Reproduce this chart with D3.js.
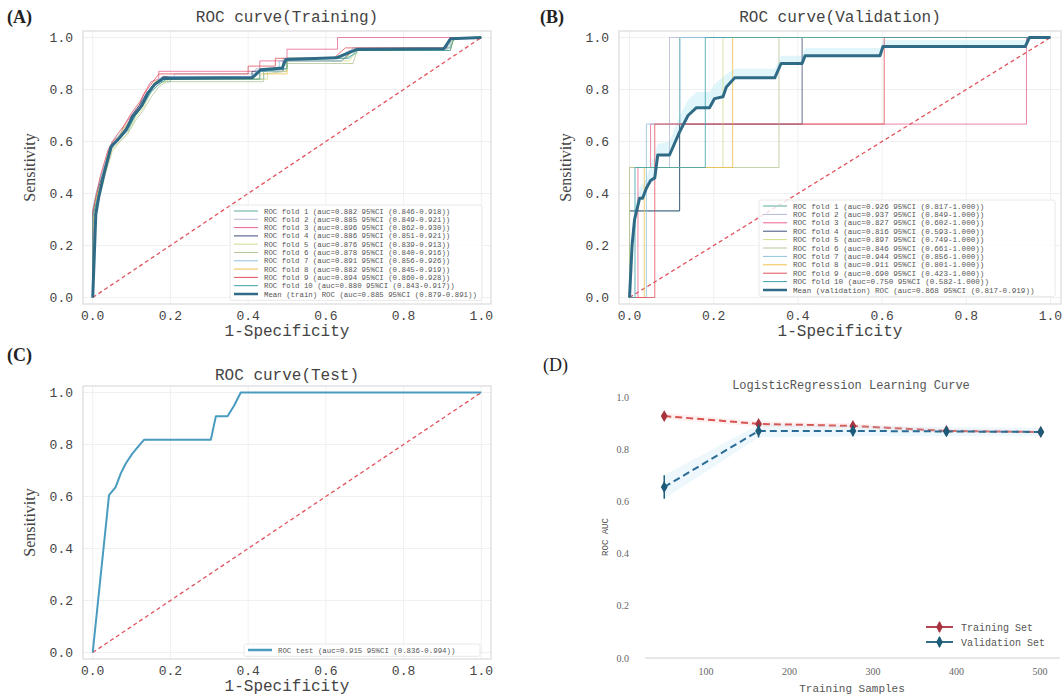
<!DOCTYPE html>
<html>
<head>
<meta charset="utf-8">
<script src="https://cdn.jsdelivr.net/npm/d3@7/dist/d3.min.js"></script>
<style>
  body { margin: 0; background: #fff; }
  svg { display: block; }
</style>
</head>
<body>
<svg id="chart" width="1062" height="697"></svg>
<script>
// ---- data -------------------------------------------------------------
const rocTicks = [0, 0.2, 0.4, 0.6, 0.8, 1.0];

const foldColors = ['#5aae9c', '#b3bad6', '#e8668c', '#3f4d7a', '#d3dc8c',
                    '#b5c79a', '#8fc1df', '#efc24a', '#e0505a', '#3aa3ad'];
const meanColor = '#2f6b86';

// training folds (step points)
const trainFolds = [
  [[0,0],[0,0.28],[0.01,0.36],[0.02,0.45],[0.04,0.55],[0.06,0.6],[0.09,0.64],[0.11,0.7],[0.13,0.74],[0.15,0.8],[0.17,0.83],[0.2,0.83],[0.2,0.84],[0.44,0.84],[0.44,0.87],[0.5,0.88],[0.5,0.92],[0.65,0.92],[0.68,0.94],[0.68,0.96],[0.92,0.96],[0.93,1],[1,1]],
  [[0,0],[0,0.3],[0.01,0.38],[0.03,0.5],[0.05,0.58],[0.07,0.61],[0.09,0.67],[0.11,0.71],[0.13,0.76],[0.15,0.8],[0.17,0.84],[0.21,0.84],[0.21,0.86],[0.42,0.86],[0.42,0.88],[0.49,0.88],[0.49,0.92],[0.63,0.92],[0.66,0.95],[0.91,0.95],[0.92,1],[1,1]],
  [[0,0],[0,0.22],[0.01,0.35],[0.02,0.42],[0.03,0.5],[0.05,0.6],[0.07,0.62],[0.08,0.66],[0.1,0.7],[0.12,0.74],[0.13,0.78],[0.15,0.83],[0.17,0.84],[0.17,0.87],[0.43,0.87],[0.43,0.91],[0.5,0.91],[0.5,0.955],[0.63,0.955],[0.63,1],[1,1]],
  [[0,0],[0,0.32],[0.01,0.4],[0.03,0.49],[0.05,0.59],[0.07,0.62],[0.09,0.66],[0.1,0.7],[0.12,0.74],[0.14,0.79],[0.16,0.82],[0.18,0.85],[0.41,0.85],[0.41,0.87],[0.49,0.87],[0.49,0.91],[0.64,0.91],[0.67,0.95],[0.9,0.95],[0.92,1],[1,1]],
  [[0,0],[0,0.26],[0.01,0.34],[0.03,0.46],[0.05,0.56],[0.07,0.6],[0.09,0.63],[0.11,0.69],[0.13,0.73],[0.15,0.79],[0.17,0.82],[0.2,0.84],[0.45,0.84],[0.45,0.87],[0.5,0.87],[0.5,0.91],[0.66,0.91],[0.68,0.95],[0.92,0.95],[0.93,1],[1,1]],
  [[0,0],[0,0.3],[0.01,0.37],[0.03,0.47],[0.05,0.57],[0.07,0.6],[0.09,0.63],[0.11,0.68],[0.13,0.72],[0.15,0.77],[0.17,0.81],[0.19,0.83],[0.44,0.83],[0.44,0.86],[0.5,0.87],[0.5,0.9],[0.67,0.9],[0.68,0.95],[0.91,0.95],[0.93,1],[1,1]],
  [[0,0],[0,0.34],[0.01,0.41],[0.03,0.51],[0.05,0.6],[0.07,0.63],[0.09,0.67],[0.11,0.71],[0.13,0.75],[0.15,0.81],[0.17,0.84],[0.2,0.85],[0.42,0.85],[0.42,0.87],[0.48,0.87],[0.48,0.91],[0.64,0.91],[0.67,0.96],[0.92,0.96],[0.92,1],[1,1]],
  [[0,0],[0,0.29],[0.01,0.39],[0.03,0.48],[0.04,0.56],[0.06,0.6],[0.08,0.65],[0.1,0.69],[0.12,0.73],[0.14,0.78],[0.16,0.83],[0.18,0.84],[0.43,0.84],[0.43,0.86],[0.5,0.86],[0.5,0.92],[0.65,0.92],[0.67,0.95],[0.92,0.95],[0.93,1],[1,1]],
  [[0,0],[0,0.33],[0.01,0.4],[0.02,0.47],[0.04,0.57],[0.06,0.62],[0.08,0.66],[0.1,0.71],[0.12,0.75],[0.14,0.8],[0.16,0.84],[0.17,0.86],[0.4,0.86],[0.4,0.89],[0.47,0.89],[0.47,0.92],[0.62,0.92],[0.65,0.96],[0.91,0.96],[0.92,1],[1,1]],
  [[0,0],[0,0.31],[0.01,0.37],[0.03,0.48],[0.05,0.58],[0.07,0.61],[0.09,0.65],[0.11,0.7],[0.13,0.74],[0.15,0.79],[0.17,0.82],[0.19,0.84],[0.43,0.84],[0.43,0.87],[0.5,0.88],[0.5,0.92],[0.66,0.92],[0.68,0.95],[0.92,0.95],[0.93,1],[1,1]]
];
const trainMean = [[0,0],[0.008,0.32],[0.016,0.39],[0.03,0.48],[0.047,0.58],[0.064,0.606],[0.086,0.645],[0.103,0.696],[0.125,0.735],[0.142,0.786],[0.159,0.819],[0.181,0.842],[0.41,0.845],[0.425,0.865],[0.432,0.876],[0.488,0.883],[0.497,0.915],[0.627,0.922],[0.68,0.954],[0.904,0.957],[0.921,0.995],[1,1]];
const trainLegend = [
  'ROC fold  1 (auc=0.882 95%CI (0.846-0.918))',
  'ROC fold  2 (auc=0.885 95%CI (0.849-0.921))',
  'ROC fold  3 (auc=0.896 95%CI (0.862-0.930))',
  'ROC fold  4 (auc=0.886 95%CI (0.851-0.921))',
  'ROC fold  5 (auc=0.876 95%CI (0.839-0.913))',
  'ROC fold  6 (auc=0.878 95%CI (0.840-0.916))',
  'ROC fold  7 (auc=0.891 95%CI (0.856-0.926))',
  'ROC fold  8 (auc=0.882 95%CI (0.845-0.919))',
  'ROC fold  9 (auc=0.894 95%CI (0.860-0.928))',
  'ROC fold 10 (auc=0.880 95%CI (0.843-0.917))',
  'Mean (train) ROC (auc=0.885 95%CI (0.879-0.891))'
];

// validation folds (panel B)
const valFolds = [
  [[0,0],[0,0.333],[0.119,0.333],[0.119,1],[1,1]],
  [[0,0],[0,0.5],[0.095,0.5],[0.095,1],[1,1]],
  [[0,0],[0.02,0],[0.02,0.5],[0.05,0.5],[0.05,0.667],[0.943,0.667],[0.943,1],[1,1]],
  [[0,0],[0,0.333],[0.119,0.333],[0.119,0.667],[0.41,0.667],[0.41,1],[1,1]],
  [[0,0],[0,0.5],[0.222,0.5],[0.222,1],[1,1]],
  [[0,0],[0,0.5],[0.355,0.5],[0.355,1],[1,1]],
  [[0,0],[0.04,0],[0.04,0.667],[0.12,0.667],[0.12,1],[1,1]],
  [[0,0],[0.035,0],[0.035,0.5],[0.245,0.5],[0.245,1],[1,1]],
  [[0,0],[0.06,0],[0.06,0.667],[0.605,0.667],[0.605,1],[1,1]],
  [[0,0],[0.013,0],[0.013,0.5],[0.18,0.5],[0.18,1],[1,1]]
];
const valMean = [[0,0],[0.006,0.2],[0.012,0.3],[0.024,0.382],[0.031,0.382],[0.04,0.42],[0.05,0.45],[0.06,0.46],[0.067,0.548],[0.095,0.548],[0.119,0.637],[0.139,0.7],[0.159,0.73],[0.19,0.73],[0.202,0.765],[0.222,0.772],[0.23,0.81],[0.25,0.845],[0.345,0.845],[0.36,0.9],[0.41,0.9],[0.417,0.93],[0.595,0.93],[0.602,0.965],[0.94,0.965],[0.95,1],[1,1]];
const valUpper = [[0,0],[0.006,0.24],[0.012,0.34],[0.024,0.42],[0.04,0.46],[0.067,0.59],[0.095,0.6],[0.119,0.7],[0.139,0.76],[0.159,0.79],[0.19,0.79],[0.202,0.82],[0.23,0.86],[0.25,0.88],[0.345,0.88],[0.36,0.93],[0.41,0.93],[0.417,0.96],[0.595,0.96],[0.602,0.99],[0.94,0.99],[0.95,1],[1,1]];
const valLegend = [
  'ROC fold  1 (auc=0.926 95%CI (0.817-1.000))',
  'ROC fold  2 (auc=0.937 95%CI (0.849-1.000))',
  'ROC fold  3 (auc=0.827 95%CI (0.602-1.000))',
  'ROC fold  4 (auc=0.816 95%CI (0.593-1.000))',
  'ROC fold  5 (auc=0.897 95%CI (0.749-1.000))',
  'ROC fold  6 (auc=0.846 95%CI (0.661-1.000))',
  'ROC fold  7 (auc=0.944 95%CI (0.856-1.000))',
  'ROC fold  8 (auc=0.911 95%CI (0.801-1.000))',
  'ROC fold  9 (auc=0.690 95%CI (0.423-1.000))',
  'ROC fold 10 (auc=0.750 95%CI (0.582-1.000))',
  'Mean (validation) ROC (auc=0.868 95%CI (0.817-0.919))'
];

// test set (panel C)
const testRoc = [[0,0],[0.042,0.605],[0.059,0.636],[0.072,0.688],[0.085,0.727],[0.102,0.765],[0.119,0.796],[0.132,0.818],[0.304,0.818],[0.317,0.909],[0.347,0.909],[0.364,0.95],[0.381,1],[1,1]];
const testLegend = ['ROC test (auc=0.915 95%CI (0.836-0.994))'];

// learning curve (panel D)
const lcSizes = [50, 163, 276, 388, 501];
const lcTrain = [0.927, 0.897, 0.889, 0.870, 0.866];
const lcTrainStd = [0.012, 0.010, 0.009, 0.007, 0.006];
const lcVal = [0.655, 0.870, 0.870, 0.868, 0.866];
const lcValStd = [0.045, 0.025, 0.020, 0.018, 0.016];
const lcTicksX = [100, 200, 300, 400, 500];
const lcTicksY = [0, 0.2, 0.4, 0.6, 0.8, 1.0];

// ---- drawing ----------------------------------------------------------
const svg = d3.select('#chart');
const mono = "'Liberation Mono', 'DejaVu Sans Mono', monospace";
const serif = "'Liberation Serif', 'DejaVu Serif', serif";
const fmt1 = d3.format('.1f');

function rocPanel(cfg) {
  const g = svg.append('g');
  const x = d3.scaleLinear().domain([-0.025, 1.025]).range([cfg.left, cfg.right]);
  const y = d3.scaleLinear().domain([-0.025, 1.025]).range([cfg.bottom, cfg.top]);
  const line = d3.line().x(d => x(d[0])).y(d => y(d[1]));

  // grid
  g.selectAll('.gx').data(rocTicks).enter().append('line')
    .attr('x1', d => x(d)).attr('x2', d => x(d))
    .attr('y1', cfg.top).attr('y2', cfg.bottom)
    .attr('stroke', '#f0f0f0');
  g.selectAll('.gy').data(rocTicks).enter().append('line')
    .attr('x1', cfg.left).attr('x2', cfg.right)
    .attr('y1', d => y(d)).attr('y2', d => y(d))
    .attr('stroke', '#f0f0f0');

  // band around mean curve
  if (cfg.upper) {
    const poly = cfg.upper.concat(cfg.mean.slice().reverse());
    g.append('path').attr('d', line(poly) + 'Z')
      .attr('fill', '#c9eef8').attr('opacity', 0.55);
  }

  // chance line
  g.append('line')
    .attr('x1', x(0)).attr('y1', y(0)).attr('x2', x(1)).attr('y2', y(1))
    .attr('stroke', '#e2525c').attr('stroke-width', 1.3)
    .attr('stroke-dasharray', '4,3');

  // fold curves
  (cfg.folds || []).forEach((f, i) => {
    g.append('path').attr('d', line(f))
      .attr('fill', 'none').attr('stroke', foldColors[i])
      .attr('stroke-width', 1).attr('opacity', 0.8);
  });

  // mean / single curve
  g.append('path').attr('d', line(cfg.mean))
    .attr('fill', 'none').attr('stroke', cfg.meanColor)
    .attr('stroke-width', cfg.meanWidth).attr('stroke-linejoin', 'round');

  // frame
  g.append('rect')
    .attr('x', cfg.left).attr('y', cfg.top)
    .attr('width', cfg.right - cfg.left).attr('height', cfg.bottom - cfg.top)
    .attr('fill', 'none').attr('stroke', '#d4d4d4');

  // tick labels
  g.selectAll('.tx').data(rocTicks).enter().append('text')
    .attr('x', d => x(d)).attr('y', cfg.bottom + 16)
    .attr('text-anchor', 'middle')
    .style('font-family', mono).style('font-size', '13px').attr('fill', '#444')
    .text(fmt1);
  g.selectAll('.ty').data(rocTicks).enter().append('text')
    .attr('x', cfg.left - 10).attr('y', d => y(d) + 4)
    .attr('text-anchor', 'end')
    .style('font-family', mono).style('font-size', '13px').attr('fill', '#444')
    .text(fmt1);

  // axis labels and title
  g.append('text')
    .attr('x', (cfg.left + cfg.right) / 2).attr('y', cfg.bottom + 32)
    .attr('text-anchor', 'middle')
    .style('font-family', mono).style('font-size', '16px').attr('fill', '#444')
    .text('1-Specificity');
  g.append('text')
    .attr('transform', `translate(${cfg.left - 48},${(cfg.top + cfg.bottom) / 2}) rotate(-90)`)
    .attr('text-anchor', 'middle')
    .style('font-family', serif).style('font-size', '16px').attr('fill', '#444')
    .text('Sensitivity');
  g.append('text')
    .attr('x', (cfg.left + cfg.right) / 2).attr('y', cfg.titleY)
    .attr('text-anchor', 'middle')
    .style('font-family', mono).style('font-size', '16px').attr('fill', '#444')
    .text(cfg.title);
  g.append('text')
    .attr('x', cfg.tagX).attr('y', cfg.tagY)
    .style('font-family', serif).style('font-size', '18px')
    .style('font-weight', 'bold').attr('fill', '#222')
    .text(cfg.tag);

  // legend
  const lg = cfg.legend;
  const n = lg.labels.length;
  g.append('rect')
    .attr('x', lg.x - 4).attr('y', lg.y - 6)
    .attr('width', lg.w).attr('height', n * lg.step + 4)
    .attr('fill', '#fff').attr('fill-opacity', 0.8)
    .attr('stroke', '#e8e8e8').attr('rx', 2);
  lg.labels.forEach((t, i) => {
    const yy = lg.y + i * lg.step;
    const isMean = i === n - 1 && cfg.folds;
    const col = cfg.folds ? (isMean ? cfg.meanColor : foldColors[i]) : cfg.meanColor;
    g.append('line')
      .attr('x1', lg.x).attr('x2', lg.x + 24).attr('y1', yy).attr('y2', yy)
      .attr('stroke', col).attr('stroke-width', isMean || !cfg.folds ? 2.5 : 1);
    g.append('text')
      .attr('x', lg.x + 30).attr('y', yy + 2.5)
      .style('font-family', mono).style('font-size', lg.size + 'px').attr('fill', '#555')
      .text(t);
  });
}

rocPanel({
  left: 83, right: 491, top: 31, bottom: 304,
  folds: trainFolds, mean: trainMean, meanColor: meanColor, meanWidth: 3,
  title: 'ROC curve(Training)', titleY: 22, tag: '(A)', tagX: 7, tagY: 23,
  legend: { x: 234, y: 211, step: 8.3, w: 252, size: 7.4, labels: trainLegend }
});

rocPanel({
  left: 619, right: 1061, top: 31, bottom: 304,
  folds: valFolds, mean: valMean, upper: valUpper, meanColor: meanColor, meanWidth: 3,
  title: 'ROC curve(Validation)', titleY: 22, tag: '(B)', tagX: 540, tagY: 23,
  legend: { x: 763, y: 206, step: 8.4, w: 296, size: 7.6, labels: valLegend }
});

rocPanel({
  left: 83, right: 491, top: 386, bottom: 659,
  mean: testRoc, meanColor: '#4a9bc0', meanWidth: 2,
  title: 'ROC curve(Test)', titleY: 380, tag: '(C)', tagX: 7, tagY: 361,
  legend: { x: 248, y: 650, step: 8.3, w: 236, size: 7.4, labels: testLegend }
});

// ---- panel D: learning curve -----------------------------------------
(function learningPanel() {
  const g = svg.append('g');
  const x = d3.scaleLinear().domain([27.45, 523.55]).range([645.4, 1059.6]);
  const y = d3.scaleLinear().domain([0, 1]).range([658, 397]);

  const series = [
    { name: 'Training Set', mean: lcTrain, std: lcTrainStd, line: '#d9534f', mark: '#a8323e', band: '#f4b6b6' },
    { name: 'Validation Set', mean: lcVal, std: lcValStd, line: '#2b6c96', mark: '#1d5c78', band: '#a9dcf0' }
  ];

  // bottom spine
  g.append('line')
    .attr('x1', x(27.45)).attr('x2', x(523.55)).attr('y1', y(0)).attr('y2', y(0))
    .attr('stroke', '#cfcfcf').attr('stroke-width', 1.2);

  series.forEach(s => {
    const pts = lcSizes.map((v, i) => ({ x: v, m: s.mean[i], sd: s.std[i] }));
    g.append('path')
      .attr('d', d3.area().x(d => x(d.x)).y0(d => y(d.m - d.sd)).y1(d => y(d.m + d.sd))(pts))
      .attr('fill', s.band).attr('opacity', 0.2);
    g.append('path')
      .attr('d', d3.line().x(d => x(d.x)).y(d => y(d.m))(pts))
      .attr('fill', 'none').attr('stroke', s.line).attr('stroke-width', 2)
      .attr('stroke-dasharray', '7,4');
  });
  series.forEach(s => {
    const pts = lcSizes.map((v, i) => ({ x: v, m: s.mean[i], sd: s.std[i] }));
    const mk = g.selectAll(null).data(pts).enter().append('g')
      .attr('transform', d => `translate(${x(d.x)},${y(d.m)})`);
    mk.append('line').attr('y1', d => y(d.m - d.sd) - y(d.m)).attr('y2', d => y(d.m + d.sd) - y(d.m))
      .attr('stroke', s.mark).attr('stroke-width', 1.5);
    mk.append('path').attr('d', d3.symbol(d3.symbolDiamond, 40)())
      .attr('fill', s.mark);
  });

  // ticks
  g.selectAll('.tx').data(lcTicksX).enter().append('text')
    .attr('x', d => x(d)).attr('y', 675).attr('text-anchor', 'middle')
    .style('font-family', serif).style('font-size', '10px').attr('fill', '#666')
    .text(d => d);
  g.selectAll('.ty').data(lcTicksY).enter().append('text')
    .attr('x', 629).attr('y', d => y(d) + 3.5).attr('text-anchor', 'end')
    .style('font-family', serif).style('font-size', '10px').attr('fill', '#666')
    .text(fmt1);

  g.append('text').attr('x', 852).attr('y', 692).attr('text-anchor', 'middle')
    .style('font-family', mono).style('font-size', '11px').attr('fill', '#555')
    .text('Training Samples');
  g.append('text').attr('transform', 'translate(608,537) rotate(-90)')
    .attr('text-anchor', 'middle')
    .style('font-family', mono).style('font-size', '9px').attr('fill', '#555')
    .text('ROC AUC');
  g.append('text').attr('x', 851).attr('y', 389).attr('text-anchor', 'middle')
    .style('font-family', mono).style('font-size', '12px').attr('fill', '#555')
    .text('LogisticRegression Learning Curve');
  g.append('text').attr('x', 543).attr('y', 371)
    .style('font-family', serif).style('font-size', '18px').attr('fill', '#222')
    .text('(D)');

  // legend
  series.forEach((s, i) => {
    const yy = 627 + i * 15;
    g.append('line').attr('x1', 926).attr('x2', 953).attr('y1', yy).attr('y2', yy)
      .attr('stroke', s.mark).attr('stroke-width', 1.8);
    g.append('line').attr('x1', 939.5).attr('x2', 939.5).attr('y1', yy - 5).attr('y2', yy + 5)
      .attr('stroke', s.mark).attr('stroke-width', 1.5);
    g.append('path').attr('transform', `translate(939.5,${yy})`)
      .attr('d', d3.symbol(d3.symbolDiamond, 40)()).attr('fill', s.mark);
    g.append('text').attr('x', 961).attr('y', yy + 3.5)
      .style('font-family', mono).style('font-size', '10px').attr('fill', '#555')
      .text(s.name);
  });
})();
</script>
</body>
</html>
